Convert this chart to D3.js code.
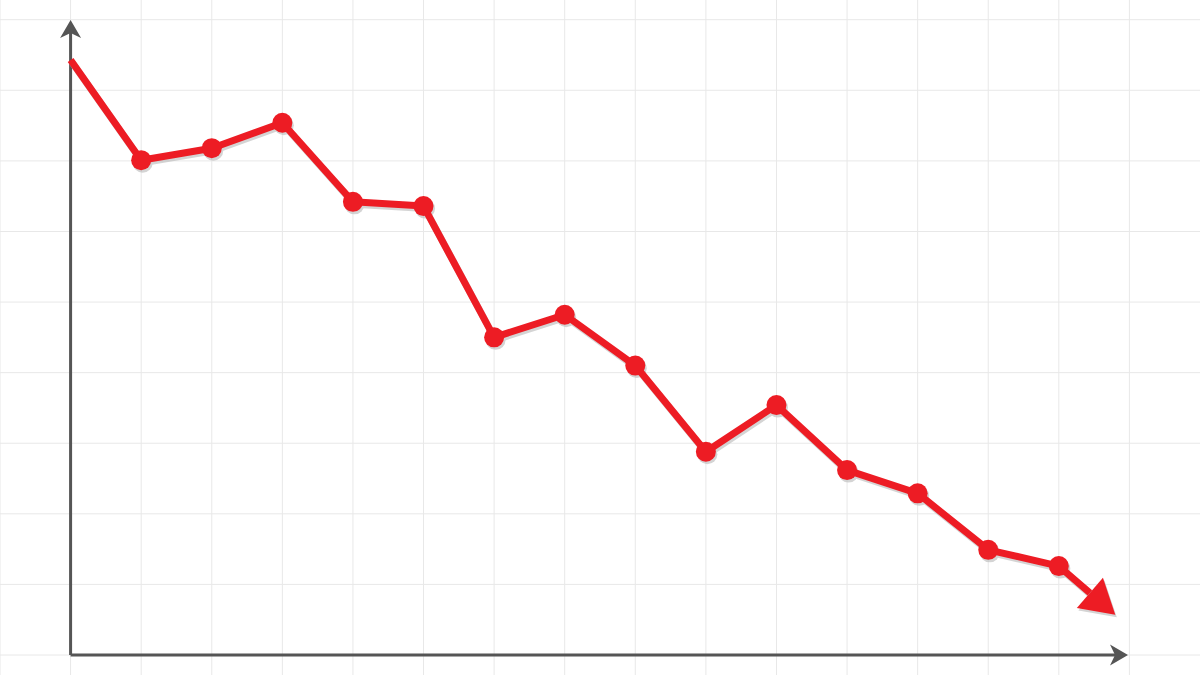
<!DOCTYPE html>
<html>
<head>
<meta charset="utf-8">
<script src="https://cdn.jsdelivr.net/npm/d3@7"></script>
<style>
  html, body { margin: 0; padding: 0; background: #fff; }
</style>
</head>
<body>
<div id="chart"></div>
<script>
const width = 1200;
const height = 675;
const cell = width / 17;

// data, in grid units
const steps = d3.range(15);
const values = [8.43, 7.01, 7.18, 7.54, 6.42, 6.36, 4.50, 4.82, 4.10, 2.88, 3.54, 2.62, 2.29, 1.49, 1.26];
const arrowBase = [14.44, 0.88];
const arrowTip = [14.8, 0.57];
const gridCols = d3.range(0, 17);
const gridRows = d3.range(-1, 10);

const red = "#ed1c24";
const axisColor = "#555";

const x = d3.scaleLinear().domain([0, 1]).range([cell, 2 * cell]);
const y = d3.scaleLinear().domain([0, 9]).range([655, 655 - 9 * cell]);

const svg = d3.select("#chart")
    .append("svg")
        .attr("width", width)
        .attr("height", height)
        .attr("viewBox", [0, 0, width, height]);

// grid
svg.append("g")
        .attr("stroke", "#e8e8e8")
        .attr("stroke-width", 1)
    .selectAll("line.v")
    .data(gridCols)
    .enter().append("line")
        .attr("x1", d => x(d - 1))
        .attr("x2", d => x(d - 1))
        .attr("y1", 0)
        .attr("y2", height);

svg.append("g")
        .attr("stroke", "#e8e8e8")
        .attr("stroke-width", 1)
    .selectAll("line.h")
    .data(gridRows)
    .enter().append("line")
        .attr("x1", 0)
        .attr("x2", width)
        .attr("y1", d => y(d))
        .attr("y2", d => y(d));

// axes
const x0 = x(0), y0 = y(0);
const yTop = 20, xRight = 1128;
svg.append("path")
    .attr("d", `M${x0},${y0}V${yTop + 10}M${x0},${y0}H${xRight - 10}`)
    .attr("fill", "none")
    .attr("stroke", axisColor)
    .attr("stroke-width", 3);

svg.append("path")
    .attr("d", `M${x0},${yTop}L${x0 + 10.5},${yTop + 18}L${x0},${yTop + 13}L${x0 - 10.5},${yTop + 18}Z`)
    .attr("fill", axisColor);
svg.append("path")
    .attr("d", `M${xRight},${y0}L${xRight - 18},${y0 - 10.5}L${xRight - 13},${y0}L${xRight - 18},${y0 + 10.5}Z`)
    .attr("fill", axisColor);

// series
const pts = steps.map((s, i) => [x(s), y(values[i])]);
const linePts = pts.concat([[x(arrowBase[0]), y(arrowBase[1])]]);
const line = d3.line();

const tip = [x(arrowTip[0]), y(arrowTip[1])];
const base = [x(arrowBase[0]), y(arrowBase[1])];
const dx = tip[0] - base[0], dy = tip[1] - base[1];
const len = Math.hypot(dx, dy);
const nx = -dy / len, ny = dx / len;
const hw = 20;
const head = [tip, [base[0] + nx * hw, base[1] + ny * hw], [base[0] - nx * hw, base[1] - ny * hw]];

function drawSeries(g, color) {
    g.append("path")
        .attr("d", line(linePts))
        .attr("fill", "none")
        .attr("stroke", color)
        .attr("stroke-width", 7)
        .attr("stroke-linejoin", "round");
    g.selectAll("circle")
        .data(pts.slice(1))
        .enter().append("circle")
            .attr("cx", d => d[0])
            .attr("cy", d => d[1])
            .attr("r", 10)
            .attr("fill", color);
    g.append("path")
        .attr("d", "M" + head.join("L") + "Z")
        .attr("fill", color);
}

drawSeries(svg.append("g").attr("transform", "translate(1.5,2.5)").attr("opacity", 0.6), "#b8b8b8");
drawSeries(svg.append("g"), red);
</script>
</body>
</html>
